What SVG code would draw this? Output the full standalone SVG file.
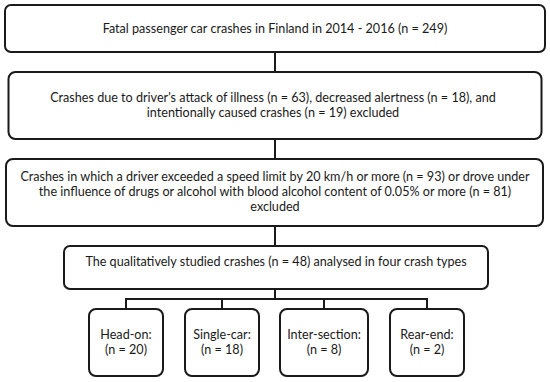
<svg xmlns="http://www.w3.org/2000/svg" width="550" height="382" viewBox="0 0 550 382">
<style>
.box{fill:#fff;stroke:#1a1a1a;stroke-width:2}
.t{font-family:Lato,"Open Sans","Liberation Sans",sans-serif;font-size:12.6px;fill:#1a1a1a;text-anchor:middle}
.c{fill:none;stroke:#1a1a1a;stroke-width:2}
</style>
<rect width="550" height="382" fill="#fff"/>
<g id="connectors">
<line class="c" x1="275" y1="52" x2="275" y2="72"/>
<line class="c" x1="275" y1="139" x2="275" y2="159"/>
<line class="c" x1="275" y1="226" x2="275" y2="246"/>
<line class="c" x1="275" y1="289" x2="275" y2="299"/>
<polyline class="c" points="126,309 126,299 427,299 427,309"/>
<line class="c" x1="222" y1="299" x2="222" y2="309"/>
<line class="c" x1="324" y1="299" x2="324" y2="309"/>
</g>
<g id="n1">
<rect class="box" x="5" y="5" width="540" height="47" rx="6"/>
<text class="t" x="275" y="33">Fatal passenger car crashes in Finland in 2014 - 2016 (n = 249)</text>
</g>
<g id="n2">
<rect class="box" x="8.5" y="72" width="533" height="67" rx="7"/>
<text class="t" x="273" y="102">Crashes due to driver's attack of illness (n = 63), decreased alertness (n = 18), and</text>
<text class="t" x="273" y="117">intentionally caused crashes (n = 19) excluded</text>
</g>
<g id="n3">
<rect class="box" x="6" y="159" width="537" height="67" rx="7"/>
<text class="t" x="275" y="181">Crashes in which a driver exceeded a speed limit by 20 km/h or more (n = 93) or drove under</text>
<text class="t" x="275" y="196">the influence of drugs or alcohol with blood alcohol content of 0.05% or more (n = 81)</text>
<text class="t" x="275" y="211">excluded</text>
</g>
<g id="n4">
<rect class="box" x="64" y="246" width="424" height="43" rx="6"/>
<text class="t" x="276" y="266">The qualitatively studied crashes (n = 48) analysed in four crash types</text>
</g>
<g id="n5">
<rect class="box" x="89" y="309" width="74" height="67" rx="7"/>
<text class="t" x="126" y="339">Head-on:</text>
<text class="t" x="126" y="354">(n = 20)</text>
</g>
<g id="n6">
<rect class="box" x="185" y="309" width="74" height="67" rx="7"/>
<text class="t" x="222" y="339">Single-car:</text>
<text class="t" x="222" y="354">(n = 18)</text>
</g>
<g id="n7">
<rect class="box" x="280" y="309" width="88" height="67" rx="7"/>
<text class="t" x="324" y="339">Inter-section:</text>
<text class="t" x="324" y="354">(n = 8)</text>
</g>
<g id="n8">
<rect class="box" x="390" y="309" width="74" height="67" rx="7"/>
<text class="t" x="427" y="339">Rear-end:</text>
<text class="t" x="427" y="354">(n = 2)</text>
</g>
</svg>
